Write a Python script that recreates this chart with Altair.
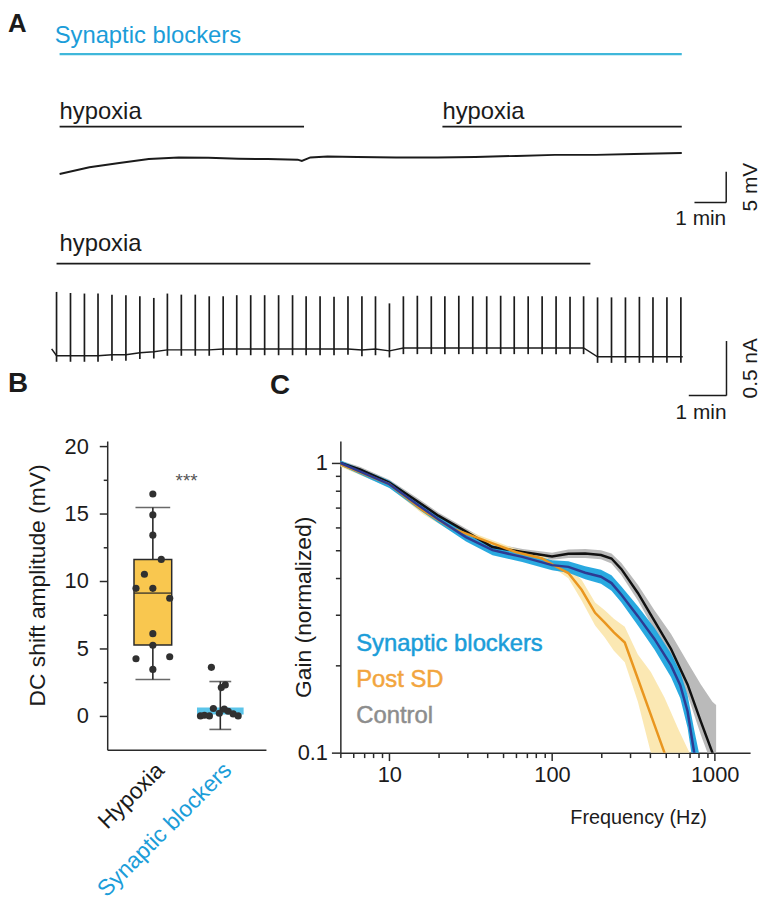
import altair as alt
import pandas as pd

FONT = "Liberation Sans"
INK = "#1b1b1b"
AX = "#2a2a2a"
CYAN_TXT = "#1b9dd9"
CYAN_LINE = "#3fb7da"
NAVY = "#2d3b93"
CYAN_BAND = "#1ea4de"
ORANGE = "#e9961f"
YELLOW = "#fbe5ab"
GRAY_BAND = "#b3b3b3"
POST_TXT = "#f2a53d"
CTRL_TXT = "#8d8d8d"
BOX_FILL = "#f9c74f"
BOX_CYAN = "#5cc5ea"
DOT = "#303030"

# ---------------- Panel A, top: membrane potential (min, mV) ----------------
a1_time = [0.0, 0.94, 1.88, 2.81, 3.75, 4.69, 5.63, 6.56, 7.50, 7.63, 7.90, 8.44,
           9.38, 10.6, 11.9, 13.1, 14.4, 15.6, 16.9, 18.1, 19.6]
a1_mv = [0.05, 1.13, 1.82, 2.47, 2.74, 2.69, 2.53, 2.47, 2.37, 2.15, 2.74, 2.90,
         2.82, 2.74, 2.74, 2.82, 2.98, 3.15, 3.15, 3.31, 3.47]
a1_drug = ["Synaptic blockers"]
a1_drug_start = [0.0]
a1_drug_end = [19.6]
a1_hyp = ["hypoxia", "hypoxia"]
a1_hyp_start = [0.0, 12.06]
a1_hyp_end = [7.7, 19.6]
a1_bar_min = [20.0, 21.0]     # 1 min
a1_bar_mv = [-4.6, 0.4]       # 5 mV

# ---------------- Panel A, bottom: current (min, nA) ----------------
a2_spike_time = [0.13, 0.50, 0.87, 1.23, 1.60, 1.97, 2.34, 2.71, 3.07, 3.44, 3.81, 4.18,
                 4.55, 4.91, 5.28, 5.65, 6.02, 6.39, 6.75, 7.12, 7.49, 7.86, 8.23, 8.59,
                 8.96, 9.33, 9.70, 10.07, 10.43, 10.80, 11.17, 11.54, 11.91, 12.27, 12.64,
                 13.01, 13.38, 13.75, 14.11, 14.48, 14.85, 15.22, 15.59, 15.95, 16.32, 16.69]
a2_spike_peak = [0.54, 0.53, 0.525, 0.525, 0.515, 0.51, 0.50, 0.485, 0.525, 0.515, 0.515,
                 0.50, 0.50, 0.51, 0.51, 0.51, 0.51, 0.51, 0.50, 0.50, 0.495, 0.50, 0.50,
                 0.50, 0.435, 0.50, 0.505, 0.50, 0.50, 0.505, 0.50, 0.50, 0.505, 0.50, 0.50,
                 0.50, 0.50, 0.495, 0.50, 0.49, 0.49, 0.49, 0.495, 0.49, 0.49, 0.49]
a2_base = [-0.045, -0.045, -0.045, -0.045, -0.036, -0.036, -0.018, -0.009, 0.009, 0.009,
           0.009, 0.009, 0.018, 0.018, 0.018, 0.018, 0.018, 0.018, 0.018, 0.018, 0.018,
           0.018, 0.009, 0.018, 0.0, 0.027, 0.027, 0.027, 0.027, 0.027, 0.027, 0.027,
           0.027, 0.027, 0.027, 0.027, 0.027, 0.027, 0.027, -0.055, -0.055, -0.055,
           -0.055, -0.055, -0.055, -0.055]
a2_trough = [-0.10, -0.10, -0.10, -0.10, -0.09, -0.09, -0.075, -0.07, -0.045, -0.045,
             -0.045, -0.045, -0.04, -0.04, -0.04, -0.04, -0.04, -0.04, -0.04, -0.04, -0.04,
             -0.035, -0.05, -0.04, -0.06, -0.03, -0.03, -0.03, -0.03, -0.03, -0.03, -0.03,
             -0.03, -0.03, -0.03, -0.03, -0.03, -0.03, -0.03, -0.11, -0.11, -0.11, -0.11,
             -0.11, -0.11, -0.11]
a2_start_time = [0.0]
a2_start_val = [0.018]
a2_end_time = [16.74]
a2_end_val = [-0.055]
a2_hyp = ["hypoxia"]
a2_hyp_start = [0.13]
a2_hyp_end = [14.29]
a2_bar_min = [16.9, 17.9]     # 1 min
a2_bar_na = [-0.41, 0.09]     # 0.5 nA

# ---------------- Panel B ----------------
groups = ["Hypoxia", "Synaptic blockers"]
hyp_vals = [16.45, 14.9, 13.4, 11.6, 10.5, 9.46, 9.46, 8.72, 6.1, 5.24, 4.24, 4.39, 3.45]
hyp_jit = [0, 0, 0, 8.5, -8.5, -17, 0, 17, 0, 0, -17, 17, 0]
blk_vals = [3.6, 2.1, 2.3, 0.0, 0.05, 0.0, 0.55, 0.2, 0.5, 0.35, 0.15, 0.0]
blk_jit = [-9, 1, 5, -20, -16, -11, -7, -1, 4, 8, 13, 18]
box_q1 = [5.25, 0.1]
box_q3 = [11.6, 0.62]
box_med = [9.1]
whisk_lo = [2.7, -1.0]
whisk_hi = [15.45, 2.55]
sig_text = ["***"]
sig_level = [17.4]

# ---------------- Panel C ----------------
ctrl_f = [5, 6.6, 10, 14.7, 20, 30, 43, 66, 100, 126, 160, 200, 232, 267, 337, 426, 539, 681, 822, 968, 1020]
ctrl_g = [1.0, 0.951, 0.856, 0.741, 0.658, 0.577, 0.513, 0.493, 0.476, 0.486, 0.487, 0.481,
          0.468, 0.43, 0.356, 0.285, 0.228, 0.172, 0.128, 0.100, 0.092]
ctrl_lo = [0.98, 0.93, 0.835, 0.72, 0.64, 0.562, 0.50, 0.482, 0.463, 0.47, 0.47, 0.465,
           0.45, 0.41, 0.335, 0.265, 0.21, 0.158, 0.115, 0.09, 0.085]
ctrl_hi = [1.02, 0.97, 0.875, 0.76, 0.675, 0.592, 0.527, 0.505, 0.49, 0.503, 0.505, 0.50,
           0.487, 0.452, 0.38, 0.31, 0.257, 0.205, 0.172, 0.15, 0.146]

post_f = [5, 10, 16.1, 24.5, 41.1, 59.7, 86.9, 105, 126, 152, 184, 211, 240, 280, 337, 405, 491, 600, 700]
post_g = [0.99, 0.845, 0.685, 0.593, 0.533, 0.493, 0.468, 0.44, 0.417, 0.365, 0.304, 0.281,
          0.26, 0.240, 0.180, 0.135, 0.100, 0.075, 0.06]
post_lo = [0.97, 0.825, 0.665, 0.578, 0.52, 0.48, 0.455, 0.43, 0.40, 0.335, 0.275, 0.25,
           0.225, 0.205, 0.15, 0.1, 0.075, 0.06, 0.05]
post_hi = [1.01, 0.865, 0.705, 0.608, 0.546, 0.506, 0.481, 0.452, 0.437, 0.395, 0.33, 0.31,
           0.29, 0.272, 0.218, 0.19, 0.155, 0.12, 0.1]

blk_f = [5, 10, 14.7, 19.9, 29.6, 43.1, 65.6, 100, 126, 160, 200, 232, 267, 337, 426, 539, 614, 681, 748, 800]
blk_g = [1.0, 0.845, 0.722, 0.641, 0.555, 0.500, 0.474, 0.444, 0.438, 0.418, 0.405, 0.385,
         0.351, 0.296, 0.247, 0.20, 0.171, 0.139, 0.100, 0.085]
blk_lo = [0.98, 0.82, 0.70, 0.622, 0.536, 0.48, 0.455, 0.426, 0.418, 0.397, 0.383, 0.362,
          0.33, 0.275, 0.227, 0.182, 0.154, 0.122, 0.086, 0.072]
blk_hi = [1.02, 0.87, 0.744, 0.66, 0.573, 0.52, 0.493, 0.462, 0.458, 0.44, 0.428, 0.41,
          0.375, 0.32, 0.27, 0.22, 0.19, 0.158, 0.12, 0.10]

legend_labels = ["Synaptic blockers", "Post SD", "Control"]
legend_colors = [CYAN_TXT, POST_TXT, CTRL_TXT]
panel_letters = ["A"]


def bar_segments(tx, vy):
    return pd.DataFrame({"x": [tx[0], tx[1]], "x2": [tx[1], tx[1]],
                         "y": [vy[0], vy[0]], "y2": [vy[0], vy[1]]})


# ======================= Panel A top =======================
xs1 = alt.Scale(domain=[1.5, 21.94], nice=False, zero=False)
ys1 = alt.Scale(domain=[-9.03, 26.45], nice=False, zero=False)


def X1(f):
    return alt.X(f, type="quantitative", scale=xs1, axis=None)


def Y1(f):
    return alt.Y(f, type="quantitative", scale=ys1, axis=None)


df_a1 = pd.DataFrame({"t": a1_time, "v": a1_mv})
df_drug = pd.DataFrame({"label": a1_drug, "start": a1_drug_start, "end": a1_drug_end})
df_hyp1 = pd.DataFrame({"label": a1_hyp, "start": a1_hyp_start, "end": a1_hyp_end})
df_bar1 = bar_segments(a1_bar_min, a1_bar_mv)
df_lab1t = pd.DataFrame({"t": [a1_bar_min[1]], "v": [a1_bar_mv[0]], "lab": ["1 min"]})
df_lab1v = pd.DataFrame({"t": [a1_bar_min[1]], "v": [(a1_bar_mv[0] + a1_bar_mv[1]) / 2], "lab": ["5 mV"]})

a1 = alt.layer(
    alt.Chart(pd.DataFrame({"lab": panel_letters})).mark_text(
        align="left", baseline="top", fontSize=26, fontWeight="bold", color=INK).encode(
        x=alt.value(-100), y=alt.value(0), text="lab:N"),
    alt.Chart(df_a1).mark_line(color=INK, strokeWidth=2).encode(x=X1("t"), y=Y1("v")),
    alt.Chart(df_drug).mark_rule(color=CYAN_LINE, strokeWidth=2.2).encode(
        x=X1("start"), x2="end", y=alt.value(43)),
    alt.Chart(df_drug).mark_text(align="left", baseline="alphabetic", dx=-5, fontSize=24,
                                 color=CYAN_TXT).encode(x=X1("start"), y=alt.value(32), text="label:N"),
    alt.Chart(df_hyp1).mark_rule(color=INK, strokeWidth=1.8).encode(
        x=X1("start"), x2="end", y=alt.value(116)),
    alt.Chart(df_hyp1).mark_text(align="left", baseline="alphabetic", fontSize=24,
                                 color=INK).encode(x=X1("start"), y=alt.value(108), text="label:N"),
    alt.Chart(df_bar1).mark_rule(color=INK, strokeWidth=1.5).encode(
        x=X1("x"), x2="x2", y=Y1("y"), y2="y2"),
    alt.Chart(df_lab1t).mark_text(align="right", baseline="top", dy=6, fontSize=21,
                                  color=INK).encode(x=X1("t"), y=Y1("v"), text="lab:N"),
    alt.Chart(df_lab1v).mark_text(align="center", baseline="middle", angle=270, dy=25, fontSize=21,
                                  color=INK).encode(x=X1("t"), y=Y1("v"), text="lab:N"),
).properties(width=654, height=220)

# ======================= Panel A bottom =======================
xs2 = alt.Scale(domain=[1.474, 18.684], nice=False, zero=False)
ys2 = alt.Scale(domain=[-0.636, 1.109], nice=False, zero=False)


def X2(f):
    return alt.X(f, type="quantitative", scale=xs2, axis=None)


def Y2(f):
    return alt.Y(f, type="quantitative", scale=ys2, axis=None)


df_base = pd.DataFrame({"t": a2_start_time + a2_spike_time + a2_end_time,
                        "v": a2_start_val + a2_base + a2_end_val})
df_spk = pd.DataFrame({"t": a2_spike_time, "lo": a2_trough, "hi": a2_spike_peak})
df_hyp2 = pd.DataFrame({"label": a2_hyp, "start": a2_hyp_start, "end": a2_hyp_end})
df_bar2 = bar_segments(a2_bar_min, a2_bar_na)
df_lab2t = pd.DataFrame({"t": [a2_bar_min[1]], "v": [a2_bar_na[0]], "lab": ["1 min"]})
df_lab2v = pd.DataFrame({"t": [a2_bar_min[1]], "v": [(a2_bar_na[0] + a2_bar_na[1]) / 2], "lab": ["0.5 nA"]})

a2 = alt.layer(
    alt.Chart(df_base).mark_line(color=INK, strokeWidth=1.5).encode(x=X2("t"), y=Y2("v")),
    alt.Chart(df_spk).mark_rule(color=INK, strokeWidth=1.7).encode(x=X2("t"), y=Y2("lo"), y2="hi"),
    alt.Chart(df_hyp2).mark_rule(color=INK, strokeWidth=1.8).encode(
        x=X2("start"), x2="end", y=alt.value(34)),
    alt.Chart(df_hyp2).mark_text(align="left", baseline="alphabetic", dx=3, fontSize=24,
                                 color=INK).encode(x=X2("start"), y=alt.value(21), text="label:N"),
    alt.Chart(df_bar2).mark_rule(color=INK, strokeWidth=1.5).encode(
        x=X2("x"), x2="x2", y=Y2("y"), y2="y2"),
    alt.Chart(df_lab2t).mark_text(align="right", baseline="top", dy=7, fontSize=21,
                                  color=INK).encode(x=X2("t"), y=Y2("v"), text="lab:N"),
    alt.Chart(df_lab2v).mark_text(align="center", baseline="middle", angle=270, dy=25, fontSize=21,
                                  color=INK).encode(x=X2("t"), y=Y2("v"), text="lab:N"),
).properties(width=654, height=192)

# ======================= Panel B =======================
xsB = alt.Scale(domain=groups, paddingInner=0.265, paddingOuter=0.309)
ysB = alt.Scale(domain=[-2.5, 20.37], nice=False, zero=False)
axisXB = alt.Axis(labelAngle=-45, ticks=False, labelFontSize=23, labelPadding=9, labelLimit=0,
                  labelColor={"condition": {"test": "datum.label === 'Synaptic blockers'",
                                            "value": CYAN_TXT}, "value": INK})
axisYB = alt.Axis(values=[0, 2.5, 5, 7.5, 10, 12.5, 15, 17.5, 20],
                  labelExpr="datum.value % 5 === 0 ? datum.label : ''",
                  tickSize={"condition": {"test": "datum.value % 5 === 0", "value": 8}, "value": 4},
                  labelPadding=11, titleX=-70, titleY=145, titleAlign="center",
                  titleBaseline="middle", labelFontSize=22, titleFontSize=23)


def XB():
    return alt.X("group:N", scale=xsB, axis=axisXB, title=None)


def YB(f):
    return alt.Y(f, type="quantitative", scale=ysB, axis=axisYB, title="DC shift amplitude (mV)")


df_pts = pd.DataFrame({"group": [groups[0]] * len(hyp_vals) + [groups[1]] * len(blk_vals),
                       "v": hyp_vals + blk_vals, "jit": hyp_jit + blk_jit})
df_box = pd.DataFrame({"group": groups, "q1": box_q1, "q3": box_q3, "lo": whisk_lo, "hi": whisk_hi})
df_med = pd.DataFrame({"group": groups[:1], "v": box_med})
df_sig = pd.DataFrame({"group": groups[:1], "v": sig_level, "s": sig_text})

b_hyp = df_box[df_box.group == groups[0]]
b_blk = df_box[df_box.group == groups[1]]

panel_b = alt.layer(
    alt.Chart(b_blk).mark_bar(width=47, color=BOX_CYAN).encode(x=XB(), y=YB("q1"), y2="q3"),
    alt.Chart(df_box).mark_rule(color=AX, strokeWidth=1.6).encode(x=XB(), y=YB("lo"), y2="hi"),
    alt.Chart(b_hyp).mark_tick(size=35, thickness=1.6, color=AX).encode(x=XB(), y=YB("lo")),
    alt.Chart(b_hyp).mark_tick(size=35, thickness=1.6, color=AX).encode(x=XB(), y=YB("hi")),
    alt.Chart(b_blk).mark_tick(size=22, thickness=1.6, color=AX).encode(x=XB(), y=YB("lo")),
    alt.Chart(b_blk).mark_tick(size=22, thickness=1.6, color=AX).encode(x=XB(), y=YB("hi")),
    alt.Chart(b_hyp).mark_bar(width=38, color=BOX_FILL, stroke=AX, strokeWidth=1.5).encode(
        x=XB(), y=YB("q1"), y2="q3"),
    alt.Chart(df_med).mark_tick(size=38, thickness=1.8, color=AX).encode(x=XB(), y=YB("v")),
    alt.Chart(df_pts).mark_circle(size=52, color=DOT, opacity=1).encode(
        x=XB(), y=YB("v"), xOffset=alt.XOffset("jit:Q", scale=alt.Scale(domain=[-25, 25]))),
    alt.Chart(df_sig).mark_text(dx=34, fontSize=19, color="#555555", baseline="middle").encode(
        x=XB(), y=YB("v"), text="s:N"),
).properties(width=160, height=311,
             title=alt.TitleParams("B", anchor="start", frame="group", dx=-100, fontSize=28,
                                   fontWeight="bold", offset=38))

# ======================= Panel C =======================
xsC = alt.Scale(type="log", domain=[5, 1650], nice=False)
ysC = alt.Scale(type="log", domain=[0.1, 1.19], nice=False)
major_x = "datum.value == 10 || datum.value == 100 || datum.value == 1000"
axisXC = alt.Axis(values=[5, 6, 7, 8, 9, 10, 20, 30, 40, 50, 60, 70, 80, 90, 100,
                          200, 300, 400, 500, 600, 700, 800, 900, 1000],
                  labelExpr="datum.value == 10 ? '10' : datum.value == 100 ? '100' : "
                            "datum.value == 1000 ? '1000' : ''",
                  tickSize={"condition": {"test": major_x, "value": 8}, "value": 5},
                  labelPadding=4, titleX=369, titleY=71, titleAlign="right",
                  titleBaseline="alphabetic", labelFlush=False, labelOverlap=False,
                  labelFontSize=22, titleFontSize=20)
axisYC = alt.Axis(values=[0.1, 0.2, 0.3, 0.4, 0.5, 0.6, 0.7, 0.8, 0.9, 1],
                  labelExpr="datum.value == 1 ? '1' : datum.value == 0.1 ? '0.1' : ''",
                  tickSize={"condition": {"test": "datum.value == 1 || datum.value == 0.1",
                                          "value": 9}, "value": 5},
                  labelPadding=4, titleX=-37, titleY=167, titleAlign="center",
                  titleBaseline="middle", labelFlush=False, labelOverlap=False,
                  labelFontSize=22, titleFontSize=23)


def XC(f):
    return alt.X(f, type="quantitative", scale=xsC, axis=axisXC, title="Frequency (Hz)")


def YC(f):
    return alt.Y(f, type="quantitative", scale=ysC, axis=axisYC, title="Gain (normalized)")


df_ctrl = pd.DataFrame({"f": ctrl_f, "g": ctrl_g, "lo": ctrl_lo, "hi": ctrl_hi})
df_post = pd.DataFrame({"f": post_f, "g": post_g, "lo": post_lo, "hi": post_hi})
df_blk = pd.DataFrame({"f": blk_f, "g": blk_g, "lo": blk_lo, "hi": blk_hi})

c_layers = [
    alt.Chart(df_ctrl).mark_area(color=GRAY_BAND, opacity=0.9, clip=True).encode(
        x=XC("f"), y=YC("lo"), y2="hi"),
    alt.Chart(df_post).mark_area(color=YELLOW, opacity=0.9, clip=True).encode(
        x=XC("f"), y=YC("lo"), y2="hi"),
    alt.Chart(df_blk).mark_area(color=CYAN_BAND, opacity=0.95, clip=True).encode(
        x=XC("f"), y=YC("lo"), y2="hi"),
    alt.Chart(df_ctrl).mark_line(color="#111111", strokeWidth=2.5, clip=True).encode(
        x=XC("f"), y=YC("g")),
    alt.Chart(df_post).mark_line(color=ORANGE, strokeWidth=2.5, clip=True).encode(
        x=XC("f"), y=YC("g")),
    alt.Chart(df_blk).mark_line(color=NAVY, strokeWidth=2.5, clip=True).encode(
        x=XC("f"), y=YC("g")),
]
for i, (lab, col) in enumerate(zip(legend_labels, legend_colors)):
    c_layers.append(
        alt.Chart(pd.DataFrame({"lab": [lab]})).mark_text(
            align="left", baseline="middle", fontSize=24, color=col, stroke=col,
            strokeWidth=0.5).encode(
            x=alt.value(16), y=alt.value(205 + 36 * i), text="lab:N"))

panel_c = alt.layer(*c_layers).properties(
    width=413, height=314,
    title=alt.TitleParams("C", anchor="start", frame="group", dx=-71, fontSize=28,
                          fontWeight="bold", offset=42))

row3 = alt.hconcat(panel_b, panel_c, spacing=4)
top = alt.vconcat(a1, a2, spacing=0)

chart = alt.vconcat(top, row3, spacing=-55).properties(padding=0).configure(
    font=FONT).configure_view(stroke=None).configure_axis(
    labelFont=FONT, titleFont=FONT, labelColor=INK, titleColor=INK,
    titleFontWeight="normal", domainColor=AX, tickColor=AX, domainWidth=1.5,
    tickWidth=1.5, grid=False, labelFontSize=20, titleFontSize=20
).configure_title(font=FONT, color=INK)

chart.save("out.html", embed_options={"renderer": "svg", "actions": False})
